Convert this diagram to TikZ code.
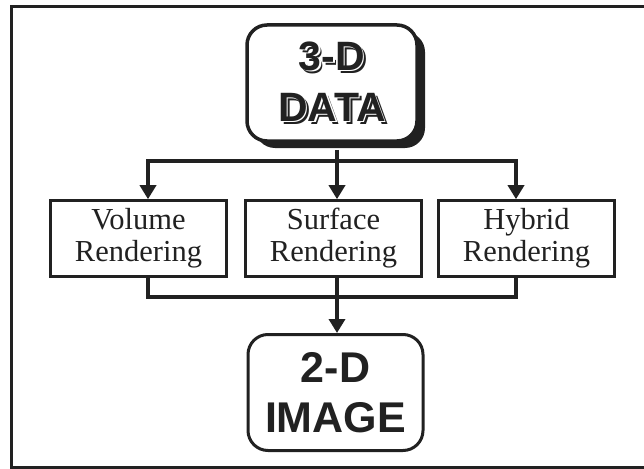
\documentclass[tikz,border=0pt]{standalone}
\usepackage{fontspec}
\setmainfont{Liberation Serif}
\newfontfamily\heavysans{Liberation Sans}
\usetikzlibrary{arrows.meta,shadows}
\definecolor{ink}{gray}{0.13}

% a line of heavy lettering with an offset shadow and a thin white gap
\newcommand\shadedline[1]{\leavevmode
  \rlap{\hspace{3pt}\raisebox{-3pt}{\color{ink}#1}}%
  \rlap{\hspace{1.4pt}\raisebox{-1.4pt}{\color{white}#1}}%
  {\color{ink}#1}}

\begin{document}
\begin{tikzpicture}[x=1pt,y=-1pt,
  frameline/.style={draw=ink, line width=3pt},
  endbox/.style={draw=ink, fill=white, rounded corners=20pt, inner sep=0pt},
  methodbox/.style={draw=ink, fill=white, line width=2.6pt, inner sep=0pt,
    minimum width=176pt, minimum height=76pt, align=center,
    font=\fontsize{30.5}{32}\selectfont, text=ink},
  flow/.style={draw=ink, line width=4pt},
  flowarrow/.style={flow, -{Triangle[length=14pt,width=16pt]}},
]
\useasboundingbox (0,0) rectangle (644,468);

% outer frame (open on the right)
\draw[frameline] (650,467) -- (11.5,467) -- (11.5,6.5) -- (650,6.5);

% source box with heavy drop shadow
\node[endbox, line width=3.5pt, minimum width=170pt, minimum height=116pt,
      drop shadow={shadow xshift=8pt, shadow yshift=-7pt, fill=ink, opacity=1},
      align=center, font=\heavysans\bfseries\fontsize{41}{51}\selectfont]
      (data) at (332,83) {\shadedline{3-D}\\\shadedline{DATA}};

% rendering methods
\node[methodbox] (vol)  at (138.5,238.5) {Volume\\Rendering};
\node[methodbox] (surf) at (333.5,238.5) {Surface\\Rendering};
\node[methodbox] (hyb)  at (526.5,238.5) {Hybrid\\Rendering};

% result box
\node[endbox, line width=3pt, minimum width=175pt, minimum height=116pt,
      align=center, text=ink, font=\heavysans\bfseries\fontsize{43}{50}\selectfont]
      (img) at (335.5,392.5) {2-D\\IMAGE};

% split bus
\coordinate (hub)  at (337,161);
\coordinate (tapL) at (148,161);
\coordinate (tapR) at (516,161);
\draw[flow] ([yshift=-7pt]data.south -| hub) -- (hub);
\draw[flow, line cap=rect] (tapL) -- (tapR);
\draw[flowarrow] (tapL) -- (tapL |- vol.north);
\draw[flowarrow] (hub) -- (hub |- surf.north);
\draw[flowarrow] (tapR) -- (tapR |- hyb.north);

% merge bus
\coordinate (joinL) at (148,297);
\coordinate (joinR) at (516,297);
\draw[flow, line join=miter] (joinL |- vol.south) -- (joinL) -- (joinR) -- (joinR |- hyb.south);
\draw[flowarrow] (hub |- surf.south) -- (hub |- img.north);
\end{tikzpicture}
\end{document}
